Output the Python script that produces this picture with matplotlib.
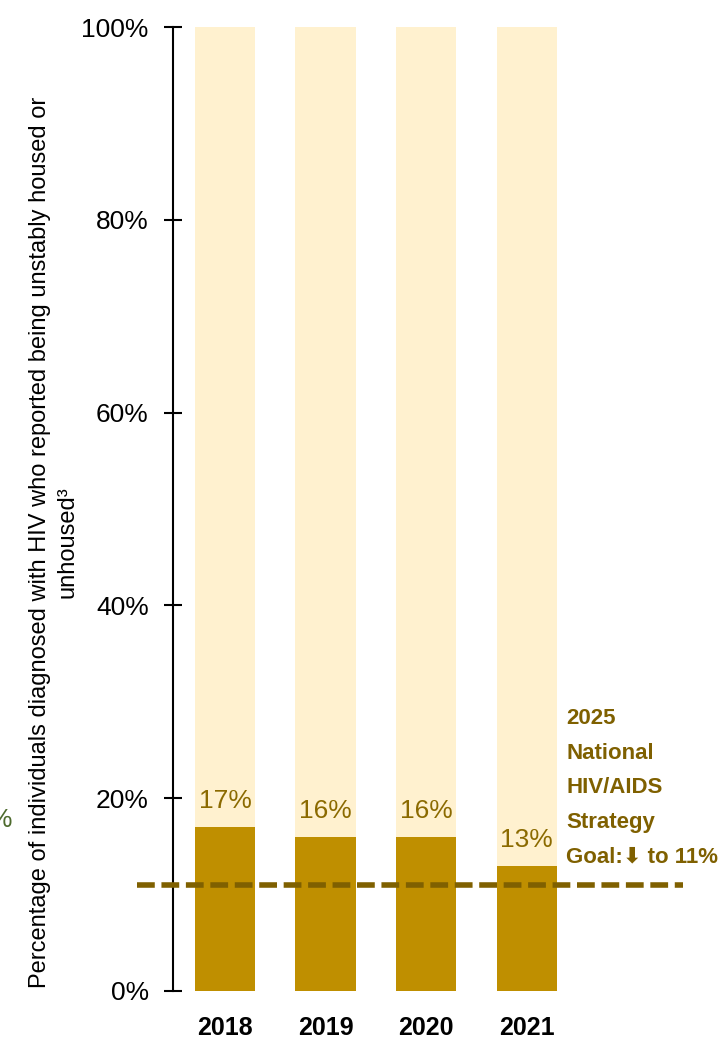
import matplotlib.pyplot as plt
from matplotlib.ticker import FuncFormatter

# data
years = ['2018', '2019', '2020', '2021']
unhoused_pct = [17, 16, 16, 13]
goal_pct = 11
goal_text = '2025\nNational\nHIV/AIDS\nStrategy\nGoal:\u2b07 to 11%'
ylabel = ('Percentage of individuals diagnosed with HIV who reported being unstably housed or\n'
          'unhoused\u00b3')

LIGHT = '#FFF1CF'
DARK = '#BF8F00'
LINE = '#7F6000'

plt.rcParams['font.family'] = ['Liberation Sans', 'DejaVu Sans']

fig = plt.figure(figsize=(7.22, 10.43), dpi=100)
ax = fig.add_axes([173 / 722, 52 / 1043, 549 / 722, 964 / 1043])

x = list(range(len(years)))
ax.bar(x, [100] * len(years), width=0.6, color=LIGHT, zorder=1)
ax.bar(x, unhoused_pct, width=0.6, color=DARK, zorder=2)

# value labels above the dark bars
for xi, v in zip(x, unhoused_pct):
    ax.annotate(f'{v}%', (xi, v), xytext=(0, 10), textcoords='offset points',
                ha='center', va='bottom', fontsize=19, color='#8B6A00')

# goal line, runs past the axis on both sides
ax.plot([-0.87, 4.55], [goal_pct, goal_pct], color=LINE, lw=4,
        dashes=(3.2, 1.2), clip_on=False, zorder=3)
ax.text(3.39, 12.8, goal_text, ha='left', va='bottom', fontsize=16,
        color=LINE, fontweight='bold', linespacing=1.85)

ax.set_xlim(-0.517, 4.94)
ax.set_ylim(0, 100)
ax.set_yticks([0, 20, 40, 60, 80, 100])
ax.yaxis.set_major_formatter(FuncFormatter(lambda v, p: f'{v:.0f}%'))
ax.set_xticks(x)
ax.set_xticklabels(years, fontweight='bold')

for s in ['top', 'right', 'bottom']:
    ax.spines[s].set_visible(False)
ax.spines['left'].set_linewidth(1.5)
ax.tick_params(axis='y', direction='inout', length=13, width=1.5,
               labelsize=19, pad=11)
ax.tick_params(axis='x', length=0, labelsize=18, pad=18)

# y label, two centred lines
fig.text(54 / 722, 1 - 542 / 1043, ylabel, rotation=90, ha='center', va='center',
         multialignment='center', fontsize=17, linespacing=1.3)

# stray label cut off at the left edge
fig.text(12 / 722, 1 - 820 / 1043, '%', ha='right', va='center',
         fontsize=19, color='#4E6B2E')

fig.savefig('out.png', dpi=100)
